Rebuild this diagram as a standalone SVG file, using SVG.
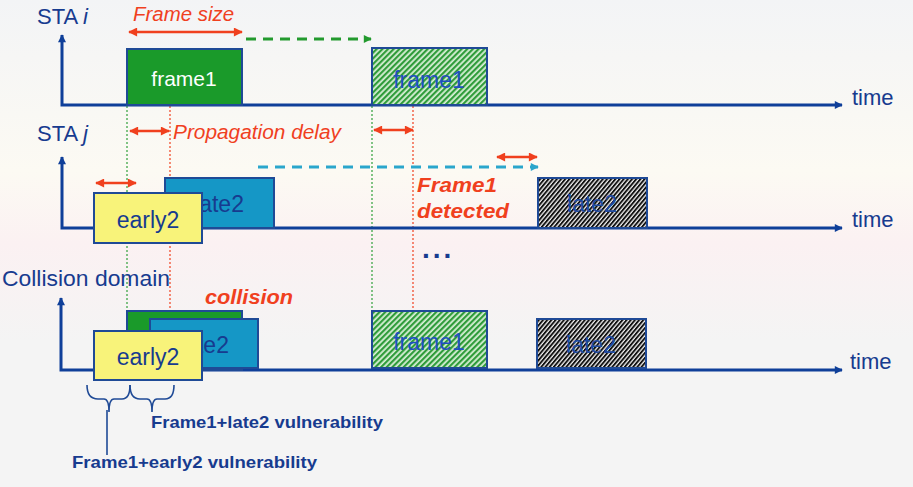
<svg xmlns="http://www.w3.org/2000/svg" width="913" height="487" viewBox="0 0 913 487">
<defs>
  <linearGradient id="bg" x1="0" y1="0" x2="0" y2="1">
    <stop offset="0" stop-color="#f3f4f6"/>
    <stop offset="0.35" stop-color="#fcfaf3"/>
    <stop offset="0.5" stop-color="#fbf1f2"/>
    <stop offset="0.7" stop-color="#f4f4f4"/>
    <stop offset="1" stop-color="#f4f4f4"/>
  </linearGradient>
  <pattern id="hatchG" width="4" height="4" patternUnits="userSpaceOnUse" patternTransform="rotate(45)">
    <rect width="4" height="4" fill="#d8efd6"/>
    <rect width="2.2" height="4" fill="#2f9c3a"/>
  </pattern>
  <pattern id="hatchK" width="3.2" height="3.2" patternUnits="userSpaceOnUse" patternTransform="rotate(40)">
    <rect width="3.2" height="3.2" fill="#f0f0f0"/>
    <rect width="1.9" height="3.2" fill="#111111"/>
  </pattern>
  <marker id="ab" viewBox="0 0 10 10" refX="9" refY="5" markerWidth="9" markerHeight="8" markerUnits="userSpaceOnUse" orient="auto-start-reverse">
    <path d="M0,0 L10,5 L0,10 Z" fill="#0f3f99"/>
  </marker>
  <marker id="ar" viewBox="0 0 10 10" refX="9" refY="5" markerWidth="10" markerHeight="9" markerUnits="userSpaceOnUse" orient="auto-start-reverse">
    <path d="M0,0 L10,5 L0,10 Z" fill="#f0401e"/>
  </marker>
  <marker id="ag" viewBox="0 0 10 10" refX="9" refY="5" markerWidth="9" markerHeight="8" markerUnits="userSpaceOnUse" orient="auto">
    <path d="M0,0 L10,5 L0,10 Z" fill="#239a2e"/>
  </marker>
  <marker id="ac" viewBox="0 0 10 10" refX="9" refY="5" markerWidth="9" markerHeight="8" markerUnits="userSpaceOnUse" orient="auto">
    <path d="M0,0 L10,5 L0,10 Z" fill="#2aa6cc"/>
  </marker>
</defs>
<style>
  text { font-family: "Liberation Sans", Arial, sans-serif; }
  .lbl { fill: #173b8f; font-size: 22px; }
  .axis { stroke: #0f3f99; stroke-width: 3; fill: none; }
  .red { stroke: #f0401e; stroke-width: 2.5; fill: none; }
  .redt { fill: #f0401e; font-style: italic; font-size: 20.5px; }
  .redb { fill: #f0401e; font-style: italic; font-weight: bold; font-size: 20px; }
  .box { stroke: #1f4a96; stroke-width: 2; }
  .bt { font-size: 23px; text-anchor: middle; }
  .vline { stroke-width: 1.2; stroke-dasharray: 2 2; fill: none; }
  .vul { fill: #173b8f; font-size: 16.5px; font-weight: bold; }
  .brace { stroke: #1f4a96; stroke-width: 1.6; fill: none; }
</style>
<rect width="913" height="487" fill="url(#bg)"/>

<g id="connectors">
  <line class="vline" x1="127" y1="106" x2="127" y2="311" stroke="#2fa03a"/>
  <line class="vline" x1="170" y1="106" x2="170" y2="318" stroke="#f0401e"/>
  <line class="vline" x1="372" y1="106" x2="372" y2="311" stroke="#2fa03a"/>
  <line class="vline" x1="413" y1="106" x2="413" y2="318" stroke="#f0401e"/>
  <line x1="246" y1="39" x2="371" y2="39" stroke="#239a2e" stroke-width="2.8" stroke-dasharray="10 7" marker-end="url(#ag)"/>
  <line x1="258" y1="167" x2="538" y2="167" stroke="#2aa6cc" stroke-width="2.8" stroke-dasharray="10 7" marker-end="url(#ac)"/>
  <line class="red" x1="129" y1="32" x2="242" y2="32" marker-start="url(#ar)" marker-end="url(#ar)"/>
  <line class="red" x1="130" y1="131" x2="169" y2="131" marker-start="url(#ar)" marker-end="url(#ar)"/>
  <line class="red" x1="374" y1="130" x2="413" y2="130" marker-start="url(#ar)" marker-end="url(#ar)"/>
  <line class="red" x1="96" y1="183" x2="136" y2="183" marker-start="url(#ar)" marker-end="url(#ar)"/>
  <line class="red" x1="497" y1="157" x2="537" y2="157" marker-start="url(#ar)" marker-end="url(#ar)"/>
</g>

<g id="axis-i">
  <polyline class="axis" points="62,35 62,105 842,105" marker-start="url(#ab)" marker-end="url(#ab)"/>
  <text class="lbl" x="37" y="24">STA <tspan font-style="italic">i</tspan></text>
  <text class="lbl" x="852" y="105">time</text>
</g>
<g id="axis-j">
  <polyline class="axis" points="62,157 62,228 842,228" marker-start="url(#ab)" marker-end="url(#ab)"/>
  <text class="lbl" x="37" y="141">STA <tspan font-style="italic">j</tspan></text>
  <text class="lbl" x="852" y="227">time</text>
</g>
<g id="axis-collision">
  <polyline class="axis" points="61,298 61,370 842,370" marker-start="url(#ab)" marker-end="url(#ab)"/>
  <text class="lbl" x="2" y="286" textLength="168" lengthAdjust="spacingAndGlyphs">Collision domain</text>
  <text class="lbl" x="850" y="369">time</text>
</g>

<g id="frame-size-label"><text class="redt" x="133" y="21" textLength="101" lengthAdjust="spacingAndGlyphs">Frame size</text></g>
<g id="prop-delay-label"><text class="redt" x="173" y="139" textLength="168" lengthAdjust="spacingAndGlyphs">Propagation delay</text></g>

<g id="frame1-i">
  <rect class="box" x="127" y="49" width="115" height="56" fill="#1a9a2a"/>
  <text x="184" y="86" text-anchor="middle" font-size="21" fill="#ffffff">frame1</text>
</g>
<g id="frame1-i-hatched">
  <rect class="box" x="372" y="48" width="115" height="57" fill="url(#hatchG)"/>
  <text class="bt" x="429" y="88" fill="#1f4fc0">frame1</text>
</g>

<g id="late2-j">
  <rect class="box" x="165" y="178" width="109" height="50" fill="#1597c6"/>
  <text class="bt" x="219" y="212" fill="#173b8f">late2</text>
</g>
<g id="early2-j">
  <rect class="box" x="94" y="193" width="108" height="50" fill="#f8f37a"/>
  <text class="bt" x="148" y="228" fill="#173b8f">early2</text>
</g>
<g id="frame1-detected">
  <text class="redb" x="417" y="192" textLength="80" lengthAdjust="spacingAndGlyphs">Frame1</text>
  <text class="redb" x="417" y="218" textLength="92" lengthAdjust="spacingAndGlyphs">detected</text>
</g>
<g id="late2-j-hatched">
  <rect class="box" x="538" y="178" width="109" height="50" fill="url(#hatchK)"/>
  <text class="bt" x="592" y="212" fill="#1f4aa0">late2</text>
</g>
<g id="ellipsis">
  <text x="422" y="258" font-size="28" font-weight="bold" letter-spacing="3" fill="#173b8f">...</text>
</g>

<g id="collision-label"><text class="redb" x="205" y="304" textLength="88" lengthAdjust="spacingAndGlyphs">collision</text></g>
<g id="frame1-c">
  <rect class="box" x="127" y="311" width="115" height="59" fill="#1a9a2a"/>
</g>
<g id="late2-c">
  <rect class="box" x="150" y="319" width="108" height="49" fill="#1597c6"/>
  <text class="bt" x="204" y="353" fill="#173b8f">late2</text>
</g>
<g id="early2-c">
  <rect class="box" x="94" y="331" width="108" height="49" fill="#f8f37a"/>
  <text class="bt" x="148" y="365" fill="#173b8f">early2</text>
</g>
<g id="frame1-c-hatched">
  <rect class="box" x="372" y="311" width="115" height="57" fill="url(#hatchG)"/>
  <text class="bt" x="429" y="350" fill="#1f4fc0">frame1</text>
</g>
<g id="late2-c-hatched">
  <rect class="box" x="537" y="319" width="109" height="49" fill="url(#hatchK)"/>
  <text class="bt" x="591" y="353" fill="#1f4aa0">late2</text>
</g>

<g id="braces">
  <path class="brace" d="M87,385 Q87,399 98,399 L104,399 Q109,399 109,412 Q109,399 114,399 L122,399 Q130,399 130,385"/>
  <path class="brace" d="M130,385 Q130,399 140,399 L147,399 Q152,399 152,412 Q152,399 157,399 L165,399 Q174,399 174,385"/>
  <line class="brace" x1="107" y1="410" x2="107" y2="455"/>
</g>
<g id="vuln-labels">
  <text class="vul" x="151" y="428" textLength="232" lengthAdjust="spacingAndGlyphs">Frame1+late2 vulnerability</text>
  <text class="vul" x="72" y="468" textLength="245" lengthAdjust="spacingAndGlyphs">Frame1+early2 vulnerability</text>
</g>
</svg>
